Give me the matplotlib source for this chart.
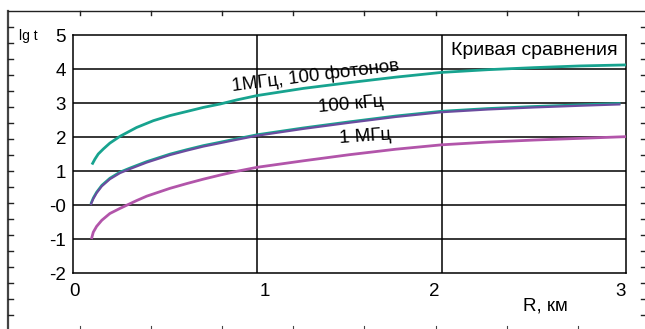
import numpy as np
import matplotlib.pyplot as plt

plt.rcParams['font.family'] = ['Liberation Sans', 'DejaVu Sans']

# 1 MHz
r_1mhz = [0.1, 0.11, 0.128, 0.156, 0.2, 0.255, 0.29, 0.345, 0.4, 0.526,
          0.617, 0.707, 0.798, 0.888, 1.0, 1.25, 1.5, 1.75, 2.0, 2.25, 2.5,
          2.75, 3.0]
lg_1mhz = [-1.0, -0.8, -0.63, -0.45, -0.25, -0.1, -0.01, 0.13, 0.26, 0.49,
           0.63, 0.76, 0.88, 0.99, 1.11, 1.3, 1.48, 1.64, 1.77, 1.85, 1.91,
           1.96, 2.01]

# 100 kHz
r_100k = [0.096, 0.11, 0.128, 0.156, 0.2, 0.255, 0.309, 0.4, 0.526, 0.617,
          0.707, 0.798, 0.888, 1.0, 1.25, 1.5, 1.75, 2.0, 2.25, 2.5, 2.75,
          2.97]
lg_100k = [0.0, 0.18, 0.35, 0.55, 0.76, 0.94, 1.06, 1.25, 1.47, 1.6,
           1.72, 1.82, 1.92, 2.04, 2.24, 2.42, 2.59, 2.73, 2.81, 2.87, 2.92,
           2.96]

# comparison curve (lies on top of 100 kHz)
lg_cmp = [0.03, 0.21, 0.38, 0.58, 0.79, 0.97, 1.09, 1.28, 1.5, 1.63,
          1.75, 1.85, 1.95, 2.07, 2.27, 2.45, 2.62, 2.76, 2.84, 2.9, 2.95,
          2.99]

# 1 MHz, 100 photons
r_phot = [0.103, 0.119, 0.137, 0.165, 0.2, 0.255, 0.345, 0.436, 0.526,
          0.617, 0.707, 0.798, 0.888, 1.0, 1.25, 1.5, 1.75, 2.0, 2.25, 2.5,
          2.75, 3.0]
lg_phot = [1.19, 1.35, 1.5, 1.65, 1.82, 2.02, 2.28, 2.48, 2.63,
           2.75, 2.87, 2.97, 3.09, 3.22, 3.43, 3.6, 3.76, 3.9, 3.98, 4.04,
           4.09, 4.12]

y_ticks = [5, 4, 3, 2, 1, 0, -1, -2]
y_labels = ['5', '4', '3', '2', '1', '-0', '-1', '-2']
x_labels = ['0', '1', '2', '3']

TEAL = '#17a38f'
PURPLE = '#6b4c9f'
MAGENTA = '#b255aa'

W, H = 645, 329
fig = plt.figure(figsize=(W / 100, H / 100), dpi=100)

# decorative outer frame, in pixels
bg = fig.add_axes([0, 0, 1, 1], zorder=0)
bg.set_xlim(0, W)
bg.set_ylim(H, 0)
bg.axis('off')
bg.plot([8, 8], [11, H], color='#444444', lw=1.6)
bg.plot([8, W], [11, 11], color='#222222', lw=1.0)
for xt in np.arange(80, W, 71.1):
    bg.plot([xt, xt], [11, 15], color='#222222', lw=1.0)
    bg.plot([xt, xt], [326, 329], color='#444444', lw=0.8)
for yt in np.arange(27, H, 16):
    bg.plot([8, 12.5], [yt, yt], color='#222222', lw=1.0)
    bg.plot([641, 645], [yt, yt], color='#222222', lw=1.0)
bg.text(28, 36, 'lg t', fontsize=10, ha='center', va='center')

ax = fig.add_axes([73 / W, 1 - 273 / H, 553 / W, 238 / H], zorder=1)
ax.patch.set_alpha(0)
ax.set_xlim(0, 3)
ax.set_ylim(-2, 5)

for yv in [4, 3, 2, 1, 0, -1]:
    ax.axhline(yv, color='black', lw=1.1, zorder=1)
for xv in [1, 2]:
    ax.axvline(xv, color='black', lw=1.1, zorder=1)

ax.plot(r_1mhz, lg_1mhz, color=MAGENTA, lw=2.0, zorder=3,
        solid_capstyle='butt', solid_joinstyle='round')
ax.plot(r_100k, lg_cmp, color=TEAL, lw=1.8, zorder=3,
        solid_capstyle='butt', solid_joinstyle='round')
ax.plot(r_100k, lg_100k, color=PURPLE, lw=1.6, zorder=4,
        solid_capstyle='butt', solid_joinstyle='round')
ax.plot(r_phot, lg_phot, color=TEAL, lw=2.0, zorder=3,
        solid_capstyle='butt', solid_joinstyle='round')

ax.text(1.313, 3.79, '1МГц, 100 фотонов', fontsize=13.5, rotation=7,
        ha='center', va='center', rotation_mode='anchor', zorder=5)
ax.text(1.508, 2.94, '100 кГц', fontsize=13.5, rotation=5,
        ha='center', va='center', rotation_mode='anchor', zorder=5)
ax.text(1.584, 2.0, '1 МГц', fontsize=13.5, rotation=4,
        ha='center', va='center', rotation_mode='anchor', zorder=5)
ax.text(2.50, 4.53, 'Кривая сравнения', fontsize=14,
        ha='center', va='center', zorder=5)

ax.set_yticks(y_ticks)
ax.set_yticklabels(y_labels, fontsize=13.5)
ax.tick_params(axis='y', length=0, pad=5)
ax.set_xticks([])

for lab, xp in zip(x_labels, [0.01, 1.04, 1.96, 2.97]):
    ax.text(xp, -0.04, lab, fontsize=13.5, ha='center', va='top',
            transform=ax.get_xaxis_transform())
ax.text(2.56, -0.105, 'R, км', fontsize=13.5, ha='center', va='top',
        transform=ax.get_xaxis_transform())

for sp in ax.spines.values():
    sp.set_linewidth(1.1)
    sp.set_color('black')

fig.savefig('out.png', dpi=100)
